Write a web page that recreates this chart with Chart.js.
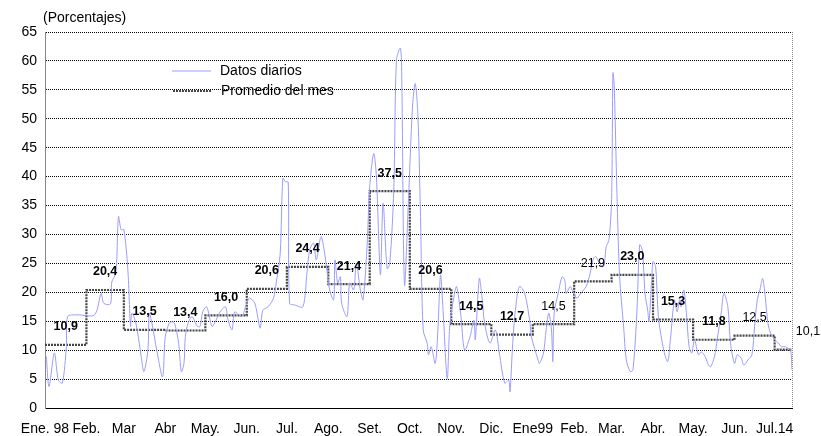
<!DOCTYPE html>
<html>
<head>
<meta charset="utf-8">
<script src="https://cdn.jsdelivr.net/npm/chart.js@4.4.1/dist/chart.umd.min.js"></script>
<style>
  html, body { margin: 0; padding: 0; background: #fff; }
</style>
</head>
<body>
<canvas id="chart" width="821" height="436"></canvas>
<script>
// etiquetas del eje X (inicio de cada mes)
const xLabels = ['Ene. 98', 'Feb.', 'Mar', 'Abr', 'May.', 'Jun.', 'Jul.', 'Ago.', 'Set.', 'Oct.',
                 'Nov.', 'Dic.', 'Ene99', 'Feb.', 'Mar.', 'Abr.', 'May.', 'Jun.', 'Jul.14'];
// día (desde 1-ene-98) en que empieza cada mes
const monthStart = [0, 31, 59, 90, 120, 151, 181, 212, 243, 273, 304, 334, 365, 396, 424, 455, 485, 516, 546];
const endDay = 559;
// promedio del mes
const monthAvg = [10.9, 20.4, 13.5, 13.4, 16.0, 20.6, 24.4, 21.4, 37.5, 20.6,
                  14.5, 12.7, 14.5, 21.9, 23.0, 15.3, 11.8, 12.5, 10.1];
// datos diarios
const dailyDay = [
  1, 3, 7, 10, 13, 16, 17, 24, 37, 42, 44, 49, 50, 53, 55, 57, 59, 62, 64, 65,
  68, 72, 74, 77, 78, 80, 84, 88, 90, 93, 95, 97, 100, 102, 104, 105, 107, 110, 114, 116,
  118, 121, 125, 128, 131, 135, 137, 140, 142, 147, 151, 153, 157, 161, 163, 167, 171, 173, 176, 178,
  180, 182, 183, 187, 193, 196, 198, 201, 203, 206, 207, 210, 213, 216, 217, 219, 221, 222, 226, 228,
  231, 233, 236, 238, 241, 243, 246, 248, 251, 253, 256, 258, 261, 263, 266, 267, 269, 272, 275, 277,
  279, 281, 283, 286, 287, 289, 292, 294, 296, 298, 301, 303, 306, 308, 311, 314, 318, 321, 322, 325,
  327, 329, 333, 337, 340, 344, 347, 348, 350, 352, 355, 359, 363, 364, 369, 370, 373, 375, 377, 379,
  380, 381, 384, 387, 389, 390, 393, 395, 398, 400, 403, 405, 408, 410, 412, 415, 418, 420, 422, 424,
  425, 426, 428, 430, 433, 435, 438, 440, 443, 445, 447, 449, 451, 452, 454, 455, 457, 459, 463, 466,
  468, 471, 473, 475, 476, 478, 480, 482, 484, 486, 489, 491, 494, 496, 498, 501, 503, 506, 508, 511,
  513, 516, 518, 521, 523, 526, 529, 531, 533, 535, 537, 539, 541, 543, 546, 549, 551, 554, 556, 558,
  559
];
const dailyValue = [
  8.9, 3.7, 9.5, 4.8, 4.3, 10.6, 15.8, 16.1, 16.1, 19.8, 18.1, 18.0, 21.8, 23.3, 33.1, 30.8, 30.9, 23.9, 14.1, 16.4,
  14.7, 8.9, 6.3, 10.0, 16.4, 14.7, 9.5, 5.4, 12.3, 14.7, 14.9, 14.6, 11.2, 6.3, 7.7, 12.3, 14.6, 15.8, 14.1, 14.1,
  16.6, 17.5, 14.1, 15.2, 16.6, 17.5, 15.2, 13.5, 16.6, 15.8, 18.1, 19.0, 18.1, 13.8, 16.9, 17.5, 19.0, 21.6, 26.7, 39.7,
  39.1, 39.1, 18.1, 17.8, 17.5, 23.3, 27.3, 28.5, 25.6, 29.3, 29.6, 25.6, 20.4, 18.7, 25.6, 21.6, 22.7, 18.1, 15.8, 21.6,
  20.4, 25.0, 20.4, 18.7, 27.9, 38.3, 44.0, 40.0, 23.0, 35.4, 24.1, 25.0, 37.7, 60.2, 62.2, 56.7, 21.3, 36.0, 52.0, 56.1,
  50.9, 33.1, 13.5, 11.2, 9.2, 10.6, 7.7, 13.5, 23.0, 16.4, 5.1, 14.6, 19.2, 21.0, 16.4, 10.0, 12.3, 15.2, 11.8, 22.4,
  19.2, 14.6, 11.2, 13.5, 9.5, 4.3, 4.8, 2.8, 11.2, 16.9, 21.0, 19.8, 14.6, 12.3, 8.3, 7.7, 9.5, 13.5, 16.4, 13.5,
  8.0, 16.4, 19.8, 22.7, 22.1, 19.8, 21.0, 20.1, 19.0, 19.5, 20.4, 21.0, 23.3, 25.6, 26.2, 25.0, 24.4, 27.9, 29.0, 36.0,
  57.9, 55.5, 37.1, 22.7, 14.1, 8.3, 6.3, 6.6, 16.9, 28.2, 27.3, 19.8, 16.9, 14.9, 22.1, 25.3, 24.4, 15.8, 10.0, 8.0,
  11.8, 18.7, 16.6, 18.7, 17.5, 20.4, 16.4, 10.6, 9.5, 11.8, 9.2, 9.7, 8.9, 7.7, 7.1, 8.9, 11.8, 16.4, 19.8, 17.5,
  11.2, 7.7, 9.2, 8.6, 7.4, 8.3, 9.2, 14.1, 18.7, 20.4, 22.4, 19.2, 14.6, 12.9, 11.8, 11.2, 10.6, 10.6, 10.3, 10.0,
  6.6
];

const FONT = '"Liberation Sans", Arial, sans-serif';

// serie escalonada del promedio mensual
const stepPoints = monthStart.map((d, i) => ({ x: d, y: monthAvg[i] }));
stepPoints.push({ x: endDay, y: monthAvg[monthAvg.length - 1] });

// título, leyenda, rótulos de promedios y borde derecho
const extras = {
  id: 'extras',
  afterDatasetsDraw(chart, args, opts) {
    const { ctx, chartArea: a, scales: { x, y } } = chart;
    const ds = chart.data.datasets;
    ctx.save();

    // borde derecho punteado
    ctx.strokeStyle = '#888';
    ctx.lineWidth = 1;
    ctx.setLineDash([1, 1]);
    ctx.beginPath();
    ctx.moveTo(a.right + 0.5, a.top);
    ctx.lineTo(a.right + 0.5, a.bottom);
    ctx.stroke();

    // título
    ctx.setLineDash([]);
    ctx.fillStyle = '#000';
    ctx.font = '14px ' + FONT;
    ctx.textAlign = 'left';
    ctx.textBaseline = 'middle';
    ctx.fillText('(Porcentajes)', 43, 18);

    // leyenda
    [[ds[0], 71, 172], [ds[1], 91, 173]].forEach(([d, ly, lx]) => {
      ctx.strokeStyle = d.borderColor;
      ctx.lineWidth = d.borderWidth;
      ctx.setLineDash(d.borderDash || []);
      ctx.beginPath();
      ctx.moveTo(lx, ly);
      ctx.lineTo(lx + 39, ly);
      ctx.stroke();
      ctx.setLineDash([]);
      ctx.fillText(d.label, lx + 48, ly);
    });

    // rótulos de los promedios
    ctx.textAlign = 'center';
    monthAvg.forEach((v, i) => {
      const to = i + 1 < monthStart.length ? monthStart[i + 1] : endDay;
      let px = x.getPixelForValue((monthStart[i] + to) / 2);
      if (i === monthAvg.length - 1) px = a.right + 16;
      const py = y.getPixelForValue(v) - 18;
      ctx.font = (opts.bold[i] ? 'bold ' : '') + '12.5px ' + FONT;
      ctx.fillText(v.toFixed(1).replace('.', ','), px, py);
    });
    ctx.restore();
  }
};

new Chart(document.getElementById('chart'), {
  type: 'line',
  data: {
    datasets: [{
      label: 'Datos diarios',
      data: dailyDay.map((d, i) => ({ x: d, y: dailyValue[i] })),
      borderColor: '#9b9bff',
      borderWidth: 1,
      pointRadius: 0,
      tension: 0.3
    }, {
      label: 'Promedio del mes',
      data: stepPoints,
      borderColor: '#444',
      borderWidth: 2.2,
      borderDash: [2, 1],
      pointRadius: 0,
      stepped: 'before'
    }]
  },
  options: {
    responsive: false,
    animation: false,
    layout: { padding: { top: 32, right: 29, bottom: 0, left: 0 } },
    plugins: {
      legend: { display: false },
      tooltip: { enabled: false },
      extras: {
        bold: [true, true, true, true, true, true, true, true, true, true,
               true, true, false, false, true, true, true, false, false]
      }
    },
    scales: {
      x: {
        type: 'linear',
        min: 0,
        max: endDay,
        afterBuildTicks: s => { s.ticks = monthStart.map(v => ({ value: v })); },
        afterFit: s => { s.height = 28; },
        ticks: {
          autoSkip: false,
          maxRotation: 0,
          padding: 5,
          color: '#000',
          font: { family: FONT, size: 14 },
          callback: (v, i) => xLabels[i]
        },
        grid: { display: false },
        border: { display: true, color: '#000', width: 1 }
      },
      y: {
        min: 0,
        max: 65,
        afterFit: s => { s.width = 45; },
        ticks: {
          stepSize: 5,
          padding: 8,
          color: '#000',
          font: { family: FONT, size: 14 }
        },
        grid: { color: '#000', lineWidth: 1, drawTicks: false },
        border: { display: true, color: '#888', dash: [1, 1], width: 1 }
      }
    }
  },
  plugins: [extras]
});
</script>
</body>
</html>
